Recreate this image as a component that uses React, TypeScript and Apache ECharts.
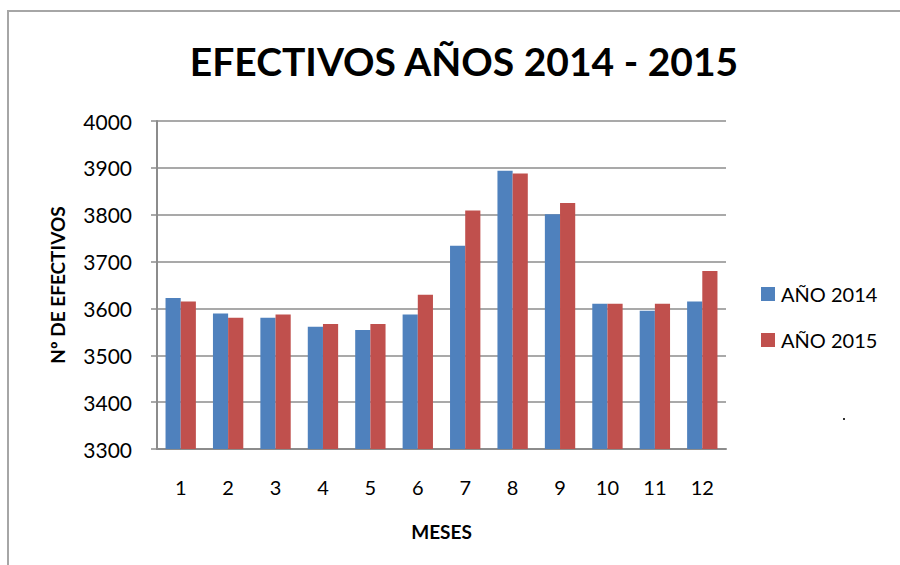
import React, { useEffect, useRef } from "react";
import * as echarts from "echarts";

const months = ["1", "2", "3", "4", "5", "6", "7", "8", "9", "10", "11", "12"];
const year2014 = [3622, 3589, 3580, 3561, 3554, 3587, 3734, 3894, 3801, 3610, 3595, 3615];
const year2015 = [3615, 3580, 3587, 3567, 3567, 3629, 3809, 3888, 3825, 3610, 3610, 3680];
const seriesNames = ["AÑO 2014", "AÑO 2015"];
const FONT = "Lato, 'Open Sans', sans-serif";

export default function App() {
  const ref = useRef<HTMLDivElement>(null);
  useEffect(() => {
    if (!ref.current) return;
    const chart = echarts.init(ref.current, null, { renderer: "svg" });
    chart.setOption({
      animation: false,
      backgroundColor: "#ffffff",
      title: {
        text: "EFECTIVOS AÑOS 2014 - 2015",
        left: 459,
        textAlign: "center",
        top: 36,
        textStyle: { fontFamily: FONT, fontWeight: "bold", fontSize: 39, color: "#000" },
      },
      graphic: [
        {
          type: "rect",
          shape: { x: 8, y: 11, width: 1000, height: 700 },
          style: { fill: "none", stroke: "#a6a6a6", lineWidth: 2 },
          silent: true,
        },
        {
          type: "rect",
          shape: { x: 843, y: 418, width: 2, height: 2 },
          style: { fill: "#333" },
          silent: true,
        },
      ],
      legend: {
        orient: "vertical",
        left: 756,
        top: 279,
        itemWidth: 14,
        itemHeight: 14,
        itemGap: 26,
        icon: "rect",
        textStyle: { fontFamily: FONT, fontSize: 20, color: "#000", padding: [0, 0, 0, 1] },
        data: seriesNames,
      },
      grid: { left: 157, right: 174, top: 121, bottom: 116 },
      xAxis: {
        type: "category",
        data: months,
        name: "MESES",
        nameLocation: "middle",
        nameGap: 73,
        nameTextStyle: { fontFamily: FONT, fontWeight: "bold", fontSize: 19, color: "#000" },
        axisLine: { lineStyle: { color: "#8c8c8c", width: 2 } },
        axisTick: { show: false },
        axisLabel: { fontFamily: FONT, fontSize: 20, color: "#000", margin: 28 },
      },
      yAxis: {
        type: "value",
        min: 3300,
        max: 4000,
        interval: 100,
        name: "Nº DE EFECTIVOS",
        nameLocation: "middle",
        nameGap: 90,
        nameTextStyle: { fontFamily: FONT, fontWeight: "bold", fontSize: 19, color: "#000" },
        axisLine: { show: true, lineStyle: { color: "#8c8c8c", width: 2 } },
        axisTick: { show: true, length: 6, lineStyle: { color: "#8c8c8c", width: 1.5 } },
        axisLabel: {
          fontFamily: FONT,
          fontSize: 21,
          color: "#000",
          margin: 25,
          formatter: (v: number) => String(v),
        },
        splitLine: { lineStyle: { color: "#8c8c8c", width: 1.5 } },
      },
      series: [
        {
          name: seriesNames[0],
          type: "bar",
          data: year2014,
          itemStyle: { color: "#4F81BD" },
          barGap: "0%",
          barCategoryGap: "36%",
        },
        {
          name: seriesNames[1],
          type: "bar",
          data: year2015,
          itemStyle: { color: "#C0504D" },
          barGap: "0%",
          barCategoryGap: "36%",
        },
      ],
    });
    return () => chart.dispose();
  }, []);
  return (
    <div
      ref={ref}
      style={{ position: "fixed", left: 0, top: 0, width: 900, height: 565 }}
    />
  );
}
